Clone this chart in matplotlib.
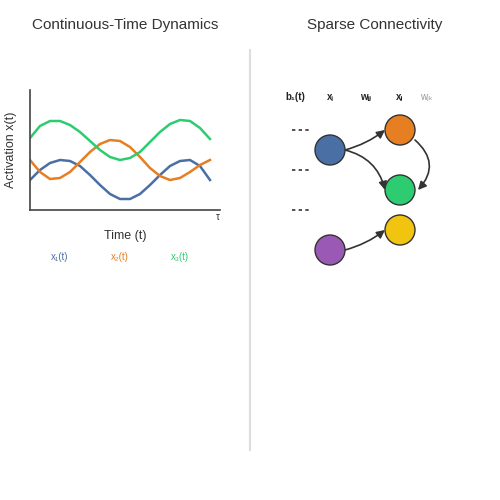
import matplotlib.pyplot as plt
from matplotlib.patches import Circle, FancyArrowPatch

plt.rcParams['font.family'] = ['Liberation Sans', 'DejaVu Sans']

# time samples and activations
t = list(range(19))
x1 = [30, 40, 47, 50, 49, 44, 35, 25, 16, 11, 11, 16, 25, 35, 44, 49, 50, 44, 30]
x2 = [50, 38, 31, 32, 38, 48, 58, 66, 70, 69, 63, 53, 42, 34, 30, 32, 38, 45, 50]
x3 = [72, 84, 89, 89, 85, 78, 69, 60, 53, 50, 52, 58, 68, 78, 86, 90, 89, 82, 71]
series_labels = ["x₁(t)", "x₂(t)", "x₃(t)"]
series_colors = ["#4a6fa5", "#e67e22", "#2ecc71"]

# network nodes (pixel layout of the sketch)
node_x = [330, 400, 400, 400, 330]
node_y = [150, 130, 190, 230, 250]
node_colors = ["#4a6fa5", "#e67e22", "#2ecc71", "#f1c40f", "#9b59b6"]
headers = ["b₁(t)", "xᵢ", "wᵢⱼ", "xⱼ", "wⱼₖ"]
header_x = [295, 330, 366, 400, 426]

fig = plt.figure(figsize=(5, 5), dpi=100)
bg = fig.add_axes([0, 0, 1, 1])
bg.set_xlim(0, 500)
bg.set_ylim(500, 0)
bg.axis("off")

bg.text(125, 25, "Continuous-Time Dynamics", ha="center", va="center", fontsize=11, color="#333")
bg.text(375, 25, "Sparse Connectivity", ha="center", va="center", fontsize=11, color="#333")
bg.plot([250, 250], [50, 450], color="#dddddd", lw=1.5)

# left chart: x 30..220, y 90..210 px
ax = fig.add_axes([30 / 500, 290 / 500, 190 / 500, 120 / 500])
for vals, c in zip([x1, x2, x3], series_colors):
    ax.plot(t, vals, color=c, lw=1.8, solid_joinstyle="round")
ax.set_xlim(0, 19)
ax.set_ylim(0, 120)
ax.set_xticks([])
ax.set_yticks([])
for s in ["top", "right"]:
    ax.spines[s].set_visible(False)
for s in ["left", "bottom"]:
    ax.spines[s].set_color("#444")
    ax.spines[s].set_linewidth(1.2)
ax.set_facecolor("none")
bg.text(218, 217, "τ", ha="center", va="center", fontsize=7, color="#333")
bg.text(125, 236, "Time (t)", ha="center", va="center", fontsize=9, color="#333")
bg.text(11, 150, "Activation x(t)", ha="center", va="center", fontsize=9, color="#333", rotation=90)
for i, (lab, c) in enumerate(zip(series_labels, series_colors)):
    bg.text(60 + 60 * i, 257, lab, ha="center", va="center", fontsize=7, color=c)

# right: network
for hx, h in zip(header_x, headers):
    bg.text(hx, 97, h, ha="center", va="center", fontsize=7,
            color="#999" if h == "wⱼₖ" else "#222", fontweight="bold" if h != "wⱼₖ" else "normal")
for yy in [130, 170, 210]:
    bg.plot([292, 310], [yy, yy], color="#333", lw=1.2, ls=(0, (2, 2)))

edges = [(0, 1, 0.1), (0, 2, -0.3), (4, 3, 0.1)]
for a, b, rad in edges:
    bg.add_patch(FancyArrowPatch((node_x[a] + 15, node_y[a]), (node_x[b] - 15, node_y[b]),
                                 connectionstyle=f"arc3,rad={rad}", arrowstyle="-|>",
                                 mutation_scale=12, color="#333", lw=1.2, shrinkA=0, shrinkB=0))
bg.add_patch(FancyArrowPatch((node_x[1] + 15, node_y[1] + 10), (node_x[2] + 18, node_y[2]),
                             connectionstyle="arc3,rad=-0.5", arrowstyle="-|>",
                             mutation_scale=12, color="#333", lw=1.2, shrinkA=0, shrinkB=0))
for nx, ny, c in zip(node_x, node_y, node_colors):
    bg.add_patch(Circle((nx, ny), 15, facecolor=c, edgecolor="#333", lw=1, zorder=3))

plt.savefig("out.png", dpi=100, facecolor="white")
